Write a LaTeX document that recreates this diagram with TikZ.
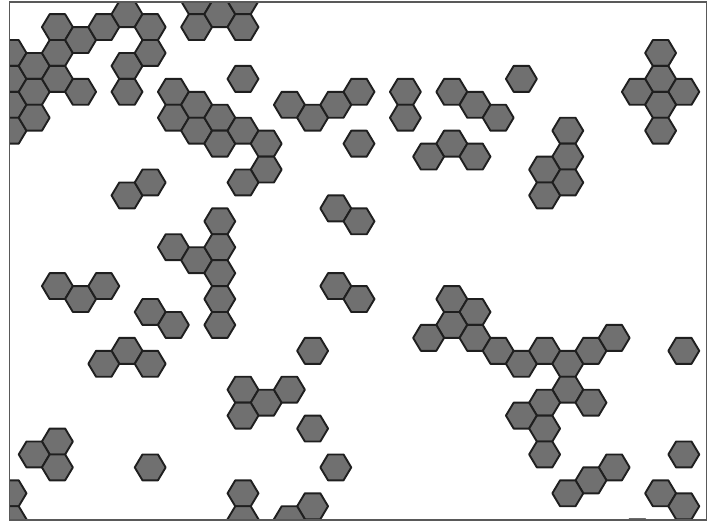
\documentclass[tikz,border=0pt]{standalone}
\usepackage{tikz}

\begin{document}
\begin{tikzpicture}[
  x=1pt,y=-1pt,
  cell/.style={draw=black!88,fill=black!56,line width=1.9pt,line join=round},
  frame/.style={draw=black!65,line width=1.8pt}
]
\useasboundingbox (0,0) rectangle (716,524);
\begin{scope}
\clip (9.5,1.7) rectangle (706.5,520);
\foreach \c/\h in {0/4,0/6,0/8,0/10,1/5,1/7,1/9,2/2,2/4,2/6,3/3,3/7,4/2,5/1,5/5,5/7,6/2,6/4,
  7/7,7/9,8/0,8/2,8/8,8/10,9/1,9/9,9/11,10/0,10/2,10/6,10/10,11/11,11/13,10/14,
  12/8,13/9,14/8,15/7,15/11,17/7,17/9,19/7,20/8,21/9,22/6,19/11,18/12,20/12,
  24/10,24/12,23/13,24/14,23/15,28/4,28/6,27/7,29/7,28/8,28/10,
  5/15,6/14,9/17,7/19,8/20,9/19,9/21,9/23,9/25,14/16,15/17,2/22,3/23,4/22,
  6/24,7/25,14/22,15/23,5/27,4/28,6/28,13/27,
  19/23,20/24,19/25,18/26,20/26,21/27,22/28,23/27,24/28,25/27,26/26,29/27,
  24/30,23/31,25/31,22/32,23/33,23/35,
  10/30,11/31,12/30,10/32,13/33,2/34,1/35,2/36,6/36,14/36,0/38,0/40,10/38,10/40,
  13/39,12/40,29/35,26/36,25/37,24/38,28/38,29/39,27/41}
  \path[cell,shift={({11+23.2*\c},{1.2+12.95*\h})}]
    (-15.47,0) -- (-7.73,-12.95) -- (7.73,-12.95) -- (15.47,0) -- (7.73,12.95) -- (-7.73,12.95) -- cycle;
\end{scope}
\draw[frame] (9.5,1.7) rectangle (706.5,520);
\end{tikzpicture}
\end{document}
